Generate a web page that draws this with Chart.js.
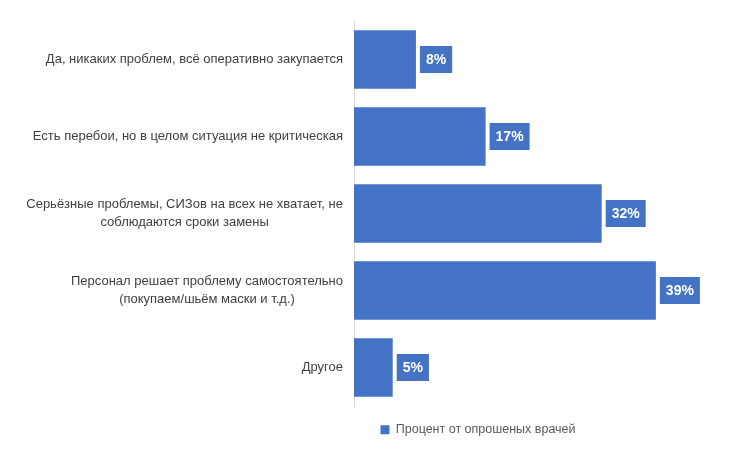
<!DOCTYPE html>
<html>
<head>
<meta charset="utf-8">
<script src="https://cdn.jsdelivr.net/npm/chart.js@4.4.1/dist/chart.umd.min.js"></script>
<style>
    html, body { margin: 0; padding: 0; background: #fff; }
    #wrap { width: 751px; height: 457px; }
</style>
</head>
<body>
<div id="wrap"><canvas id="chart" width="751" height="457"></canvas></div>
<script>
// Answer options (multi-line ones are split where the original wraps)
const categories = [
    ['Да, никаких проблем, всё оперативно закупается'],
    ['Есть перебои, но в целом ситуация не критическая'],
    ['Серьёзные проблемы, СИЗов на всех не хватает, не', 'соблюдаются сроки замены'],
    ['Персонал решает проблему самостоятельно', '(покупаем/шьём маски и т.д.)'],
    ['Другое']
];
const shares = [8, 17, 32, 39, 5];
const seriesName = 'Процент от опрошеных врачей';
const valueSuffix = '%';

const BLUE = '#4472C4';
const LABEL_FONT = '13px "Liberation Sans", Arial, sans-serif';

/**
 * Draws the category text left of the axis, each block right-aligned
 * and its lines centered on each other (like Excel does).
 */
const categoryLabels = {
    id: 'categoryLabels',
    afterDraw(chart) {
        const { ctx } = chart;
        const yScale = chart.scales.y;
        const right = yScale.right - 11;
        const lineH = 18.5;
        ctx.save();
        ctx.font = LABEL_FONT;
        ctx.fillStyle = '#404040';
        ctx.textAlign = 'center';
        ctx.textBaseline = 'middle';
        categories.forEach((lines, i) => {
            const widest = Math.max(...lines.map(l => ctx.measureText(l).width));
            const cx = right - widest / 2;
            const cy = yScale.getPixelForTick(i);
            const top = cy - (lines.length - 1) * lineH / 2;
            lines.forEach((l, k) => ctx.fillText(l, cx, top + k * lineH));
        });
        ctx.restore();
    }
};

/**
 * Value call-outs: blue box with white text just past the bar end.
 */
const valueBoxes = {
    id: 'valueBoxes',
    afterDatasetsDraw(chart) {
        const { ctx } = chart;
        const meta = chart.getDatasetMeta(0);
        ctx.save();
        ctx.font = 'bold 14px "Liberation Sans", Arial, sans-serif';
        ctx.textBaseline = 'middle';
        ctx.textAlign = 'center';
        meta.data.forEach((bar, i) => {
            const txt = shares[i] + valueSuffix;
            const w = ctx.measureText(txt).width + 12;
            const h = 27;
            const x = bar.x + 4;
            const y = bar.y - h / 2;
            ctx.fillStyle = BLUE;
            ctx.fillRect(x, y, w, h);
            ctx.fillStyle = '#fff';
            ctx.fillText(txt, x + w / 2, bar.y + 1);
        });
        ctx.restore();
    }
};

new Chart(document.getElementById('chart'), {
    type: 'bar',
    data: {
        labels: categories,
        datasets: [{
            label: seriesName,
            data: shares,
            backgroundColor: BLUE,
            borderWidth: 0,
            categoryPercentage: 1,
            barPercentage: 0.757
        }]
    },
    options: {
        indexAxis: 'y',
        responsive: false,
        animation: false,
        layout: { padding: { left: 215, right: 10, top: 21, bottom: 11 } },
        scales: {
            x: { display: false, min: 0, max: 50 },
            y: {
                grid: { display: false, drawTicks: false },
                border: { display: true, color: '#d9d9d9', width: 1 },
                ticks: { display: false },
                afterFit: s => { s.width = 139; }
            }
        },
        plugins: {
            legend: {
                position: 'bottom',
                labels: {
                    boxWidth: 9,
                    boxHeight: 9,
                    padding: 17.5,
                    color: '#595959',
                    font: { family: '"Liberation Sans", Arial, sans-serif', size: 12.5 }
                }
            },
            tooltip: { enabled: false }
        }
    },
    plugins: [categoryLabels, valueBoxes]
});
</script>
</body>
</html>
